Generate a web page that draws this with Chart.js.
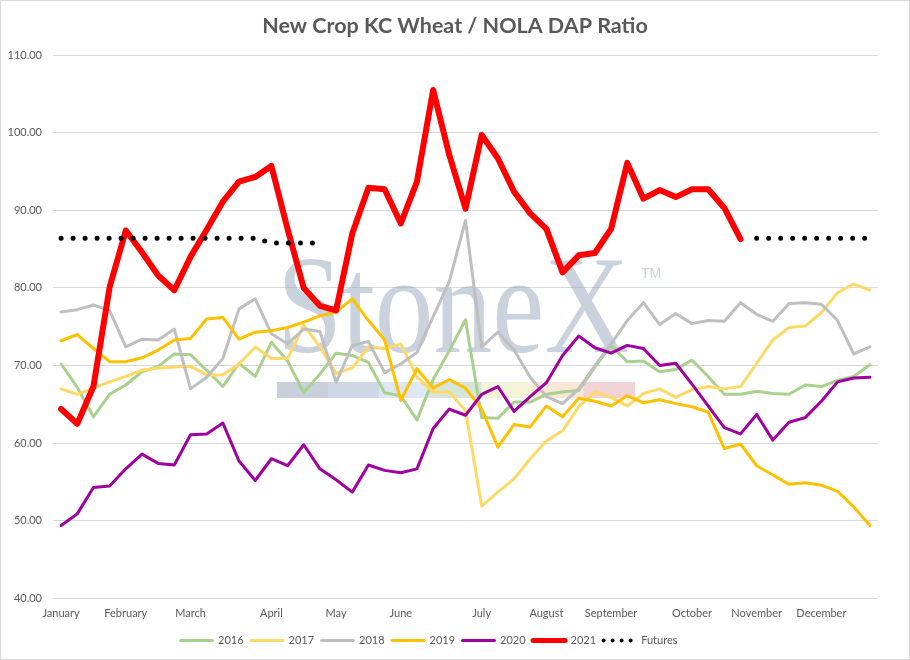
<!DOCTYPE html>
<html>
<head>
<meta charset="utf-8">
<script src="https://cdn.jsdelivr.net/npm/chart.js@4.4.0/dist/chart.umd.min.js"></script>
<style>
  html, body { margin: 0; padding: 0; background: #fff; }
</style>
</head>
<body>
<canvas id="ratioChart" width="910" height="660"></canvas>
<script>
// weekly categories, month name on the first week of each month
const weeks = [
    'January', '', '', '',
    'February', '', '', '',
    'March', '', '', '', '',
    'April', '', '', '',
    'May', '', '', '',
    'June', '', '', '', '',
    'July', '', '', '',
    'August', '', '', '',
    'September', '', '', '', '',
    'October', '', '', '',
    'November', '', '', '',
    'December', '', '', ''
];

const y2016 = [70.2, 67.2, 63.4, 66.3, 67.5, 69.2, 69.9, 71.5, 71.4, 69.4,
    67.3, 70.3, 68.6, 73.0, 70.6, 66.5, 68.9, 71.6, 71.3, 70.4,
    66.5, 66.1, 63.0, 68.2, 71.9, 75.9, 63.3, 63.2, 65.3, 65.3,
    66.3, 66.6, 66.8, 69.8, 72.6, 70.5, 70.6, 69.2, 69.5, 70.7,
    68.6, 66.3, 66.3, 66.7, 66.4, 66.3, 67.5, 67.3, 68.1, 68.6,
    70.1];

const y2017 = [67.0, 66.3, 67.1, 67.9, 68.6, 69.4, 69.7, 69.8, 69.9, 68.8,
    68.8, 70.2, 72.4, 70.9, 70.9, 75.2, 72.4, 69.0, 69.7, 72.4,
    72.2, 72.8, 68.5, 66.6, 66.6, 64.2, 51.9, 53.7, 55.4, 58.0,
    60.3, 61.6, 64.7, 66.6, 65.9, 64.8, 66.4, 67.0, 65.9, 66.9,
    67.3, 67.0, 67.3, 70.3, 73.3, 74.9, 75.1, 76.8, 79.4, 80.5,
    79.7];

const y2018 = [76.9, 77.2, 77.8, 77.1, 72.4, 73.4, 73.3, 74.7, 67.0, 68.5,
    70.9, 77.3, 78.6, 74.1, 72.8, 74.7, 74.4, 67.8, 72.6, 73.1,
    69.1, 70.2, 71.7, 76.3, 80.8, 88.7, 72.4, 74.3, 72.0, 68.5,
    66.0, 65.1, 67.0, 70.0, 72.8, 75.8, 78.1, 75.3, 76.7, 75.4,
    75.8, 75.7, 78.1, 76.6, 75.7, 78.0, 78.1, 77.9, 75.8, 71.5,
    72.4];

const y2019 = [73.2, 74.0, 72.2, 70.5, 70.5, 71.0, 72.0, 73.3, 73.5, 76.0,
    76.2, 73.4, 74.3, 74.5, 74.9, 75.6, 76.4, 76.9, 78.6, 75.8,
    73.3, 65.5, 69.6, 67.1, 68.2, 67.1, 64.4, 59.5, 62.4, 62.1,
    64.8, 63.4, 65.8, 65.4, 64.8, 66.1, 65.2, 65.6, 65.1, 64.7,
    64.0, 59.3, 59.9, 57.1, 55.9, 54.7, 54.9, 54.6, 53.8, 51.8,
    49.4];

const y2020 = [49.4, 50.9, 54.3, 54.5, 56.7, 58.6, 57.4, 57.2, 61.1, 61.2,
    62.6, 57.7, 55.2, 58.0, 57.1, 59.8, 56.7, 55.3, 53.7, 57.2,
    56.5, 56.2, 56.7, 61.9, 64.4, 63.6, 66.3, 67.3, 64.1, 66.0,
    67.8, 71.3, 73.8, 72.3, 71.6, 72.6, 72.2, 70.0, 70.3, 67.6,
    64.8, 62.0, 61.2, 63.7, 60.4, 62.7, 63.3, 65.4, 67.9, 68.4,
    68.5];

const y2021 = [64.4, 62.5, 67.3, 80.1, 87.4, 84.6, 81.6, 79.7, 84.0, 87.5,
    91.1, 93.7, 94.3, 95.7, 87.6, 80.0, 77.7, 77.1, 87.0, 92.9,
    92.7, 88.3, 93.7, 105.5, 97.1, 90.2, 99.7, 96.7, 92.4, 89.6,
    87.6, 82.0, 84.2, 84.5, 87.6, 96.1, 91.5, 92.6, 91.7, 92.7,
    92.7, 90.3, 86.3, null, null, null, null, null, null, null,
    null];

const futures = [86.4, 86.4, 86.4, 86.4, 86.4, 86.4, 86.4, 86.4, 86.4, 86.4,
    86.4, 86.4, 86.4, 85.8, 85.8, 85.8, 85.8, null, null, null,
    null, null, null, null, null, null, null, null, null, null,
    null, null, null, null, null, null, null, null, null, null,
    null, null, null, 86.4, 86.4, 86.4, 86.4, 86.4, 86.4, 86.4,
    86.4];

const textColor = '#595959';
Chart.defaults.font.family = 'Lato, "Open Sans", sans-serif';
Chart.defaults.color = textColor;

function series(label, data, color, width, order) {
    return {
        label: label,
        data: data,
        borderColor: color,
        backgroundColor: color,
        borderWidth: width,
        pointRadius: 0,
        pointHoverRadius: 0,
        tension: 0,
        fill: false,
        borderJoinStyle: 'round',
        borderCapStyle: 'round',
        order: order
    };
}

const futuresSet = series('Futures', futures, '#000000', 5, 0);
futuresSet.borderDash = [0, 12];

// faded StoneX logo behind the lines
const watermark = {
    id: 'watermark',
    beforeDatasetsDraw(chart) {
        const ctx = chart.ctx;
        ctx.save();
        ctx.fillStyle = 'rgba(150,166,188,0.5)';
        ctx.font = '139px "Liberation Serif", "DejaVu Serif", serif';
        ctx.textBaseline = 'alphabetic';
        const w = ctx.measureText('StoneX').width;
        ctx.translate(277, 352);
        ctx.scale(352 / w, 1);
        ctx.fillText('StoneX', 0, 0);
        ctx.restore();

        ctx.save();
        ctx.fillStyle = 'rgba(150,166,188,0.5)';
        ctx.font = '14px "Liberation Sans", sans-serif';
        ctx.textBaseline = 'top';
        ctx.fillText('TM', 641, 267);
        const bar = ['#C9D0DB', '#CED8E4', '#DDE8F2', '#D5E5D9', '#F7F3DA', '#F8E6D6', '#EFD3D7'];
        bar.forEach((c, i) => {
            ctx.fillStyle = c;
            ctx.fillRect(277 + i * 51.1, 382, 51.6, 16);
        });
        ctx.restore();
    }
};

// thin grey frame round the whole chart
const frame = {
    id: 'frame',
    afterDraw(chart) {
        const ctx = chart.ctx;
        ctx.save();
        ctx.strokeStyle = '#D9D9D9';
        ctx.lineWidth = 1;
        ctx.strokeRect(0.5, 0.5, chart.width - 1, chart.height - 1);
        ctx.restore();
    }
};

// title is centred on the canvas, legend a little left of it
const boxShift = {
    id: 'boxShift',
    afterLayout(chart) {
        chart.titleBlock.left += 16;
        chart.titleBlock.right += 16;
        chart.legend.left -= 10;
        chart.legend.right -= 10;
    }
};

const config = {
    type: 'line',
    data: {
        labels: weeks,
        datasets: [
            series('2016', y2016, '#A9D18E', 3, 6),
            series('2017', y2017, '#FFD966', 3, 5),
            series('2018', y2018, '#BFBFBF', 3, 4),
            series('2019', y2019, '#FFC000', 3, 3),
            series('2020', y2020, '#A000A0', 3, 2),
            series('2021', y2021, '#FF0000', 6, 1),
            futuresSet
        ]
    },
    options: {
        responsive: false,
        animation: false,
        events: [],
        layout: {
            padding: { left: 0, right: 32, top: 0, bottom: 4 }
        },
        plugins: {
            title: {
                display: true,
                text: 'New Crop KC Wheat / NOLA DAP Ratio',
                color: textColor,
                font: { size: 21.5, weight: 'bold' },
                padding: { top: 13, bottom: 16.2 }
            },
            legend: {
                position: 'bottom',
                labels: {
                    usePointStyle: true,
                    pointStyle: 'line',
                    pointStyleWidth: 32,
                    padding: 7.5,
                    color: textColor,
                    font: { size: 11 },
                    generateLabels(chart) {
                        return chart.data.datasets.map((ds, i) => ({
                            text: ds.label,
                            strokeStyle: ds.borderColor,
                            fillStyle: ds.borderColor,
                            fontColor: textColor,
                            lineWidth: ds.borderDash ? 4 : Math.min(ds.borderWidth, 5),
                            lineDash: ds.borderDash ? [0, 9] : [],
                            lineCap: 'round',
                            pointStyle: 'line',
                            hidden: false,
                            datasetIndex: i
                        }));
                    }
                }
            },
            tooltip: { enabled: false }
        },
        scales: {
            x: {
                offset: true,
                grid: { display: false },
                border: { display: false },
                ticks: {
                    autoSkip: false,
                    maxRotation: 0,
                    padding: 0,
                    font: { size: 11 }
                },
                afterFit(scale) { scale.height = 29; }
            },
            y: {
                min: 40,
                max: 110,
                grid: { color: '#D9D9D9', drawTicks: false },
                border: { display: false },
                ticks: {
                    stepSize: 10,
                    padding: 11,
                    font: { size: 11 },
                    callback: (v) => v.toFixed(2)
                },
                afterFit(scale) { scale.width = 53; }
            }
        }
    },
    plugins: [watermark, frame, boxShift]
};

const ratioChart = new Chart(document.getElementById('ratioChart'), config);
</script>
</body>
</html>
